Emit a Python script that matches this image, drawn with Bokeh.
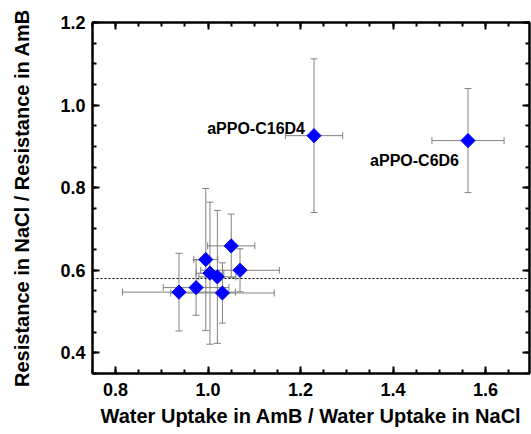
import numpy as np
from bokeh.plotting import figure
from bokeh.models import (ColumnDataSource, Whisker, TeeHead, Span, LinearAxis,
                          SingleIntervalTicker, PrintfTickFormatter, CustomJSTickFormatter, Range1d)
from bokeh.core.properties import value
from bokeh.embed import file_html
from bokeh.resources import INLINE

# data
water_ratio = [0.937, 0.974, 0.995, 1.004, 1.020, 1.031, 1.050, 1.069, 1.229, 1.562]
water_err = [0.122, 0.071, 0.026, 0.030, 0.040, 0.112, 0.051, 0.085, 0.062, 0.078]
resist_ratio = [0.547, 0.558, 0.626, 0.593, 0.584, 0.545, 0.659, 0.600, 0.926, 0.914]
resist_err = [0.094, 0.067, 0.172, 0.172, 0.161, 0.073, 0.077, 0.052, 0.186, 0.126]
labels = ["", "", "", "", "", "", "", "", "aPPO-C16D4", "aPPO-C6D6"]
ref_line = 0.58
x_ticks = [0.8, 1.0, 1.2, 1.4, 1.6]
y_ticks = [0.4, 0.6, 0.8, 1.0, 1.2]

FONT = "Liberation Sans"

x = np.array(water_ratio)
y = np.array(resist_ratio)
xe = np.array(water_err)
ye = np.array(resist_err)

src = ColumnDataSource(dict(x=x, y=y, xl=x - xe, xu=x + xe, yl=y - ye, yu=y + ye, lab=labels))

p = figure(width=531, height=434, output_backend="svg", toolbar_location=None,
           x_range=Range1d(0.75, 1.695), y_range=Range1d(0.35, 1.2000001),
           min_border_left=92, min_border_right=2, min_border_top=22, min_border_bottom=61,
           x_axis_label="Water Uptake in AmB / Water Uptake in NaCl",
           y_axis_label="Resistance in NaCl / Resistance in AmB")
p.grid.visible = False
p.outline_line_color = "black"
p.outline_line_width = 2

ERR = "#808080"
wy = Whisker(source=src, base="x", lower="yl", upper="yu", dimension="height",
             line_color=ERR, line_width=1,
             upper_head=TeeHead(size=7, line_color=ERR, line_width=1),
             lower_head=TeeHead(size=7, line_color=ERR, line_width=1), level="underlay")
wx = Whisker(source=src, base="y", lower="xl", upper="xu", dimension="width",
             line_color=ERR, line_width=1,
             upper_head=TeeHead(size=7, line_color=ERR, line_width=1),
             lower_head=TeeHead(size=7, line_color=ERR, line_width=1), level="underlay")
p.add_layout(wy)
p.add_layout(wx)

p.add_layout(Span(location=ref_line, dimension="width", line_color="black",
                  line_width=1, line_dash="2 2", level="underlay"))

p.scatter("x", "y", source=src, marker="square", angle=np.pi / 4, size=10,
          fill_color="#0000ff", line_color="#0000ff")

lab1 = ColumnDataSource(dict(x=[x[8]], y=[y[8]], t=[labels[8]]))
lab2 = ColumnDataSource(dict(x=[x[9]], y=[y[9]], t=[labels[9]]))
p.text("x", "y", text="t", source=lab1, x_offset=-9, y_offset=-7, text_align="right",
       text_baseline="middle", text_font=value(FONT), text_font_style="bold",
       text_font_size="16px", text_color="black")
p.text("x", "y", text="t", source=lab2, x_offset=-9, y_offset=20, text_align="right",
       text_baseline="middle", text_font=value(FONT), text_font_style="bold",
       text_font_size="16px", text_color="black")

def style(ax, show_labels):
    ax.axis_line_width = 2
    ax.axis_line_color = "black"
    ax.major_tick_in = 7
    ax.major_tick_out = 0
    ax.minor_tick_in = 4
    ax.minor_tick_out = 0
    ax.major_tick_line_width = 2
    ax.minor_tick_line_width = 2
    ax.major_tick_line_color = "black"
    ax.minor_tick_line_color = "black"
    ax.major_label_text_font = FONT
    ax.major_label_text_font_style = "bold"
    ax.major_label_text_font_size = "18px"
    ax.major_label_text_color = "black"
    ax.axis_label_text_font = FONT
    ax.axis_label_text_font_style = "bold"
    ax.axis_label_text_font_size = "20px"
    ax.axis_label_text_color = "black"
    if not show_labels:
        ax.formatter = CustomJSTickFormatter(code="return ''")
        ax.major_label_standoff = 0
        ax.major_label_text_font_size = "0px"

p.xaxis.ticker = SingleIntervalTicker(interval=0.2, num_minor_ticks=4)
p.yaxis.ticker = SingleIntervalTicker(interval=0.2, num_minor_ticks=4)
p.xaxis.formatter = PrintfTickFormatter(format="%.1f")
p.yaxis.formatter = PrintfTickFormatter(format="%.1f")
style(p.xaxis[0], True)
style(p.yaxis[0], True)
p.xaxis.major_label_standoff = 9
p.xaxis.axis_label_standoff = 6
p.yaxis.major_label_standoff = 7
p.yaxis.axis_label_standoff = 24

top = LinearAxis(ticker=SingleIntervalTicker(interval=0.2, num_minor_ticks=4))
right = LinearAxis(ticker=SingleIntervalTicker(interval=0.2, num_minor_ticks=4))
style(top, False)
style(right, False)
p.add_layout(top, "above")
p.add_layout(right, "right")

open("out.html", "w").write(file_html(p, INLINE))
